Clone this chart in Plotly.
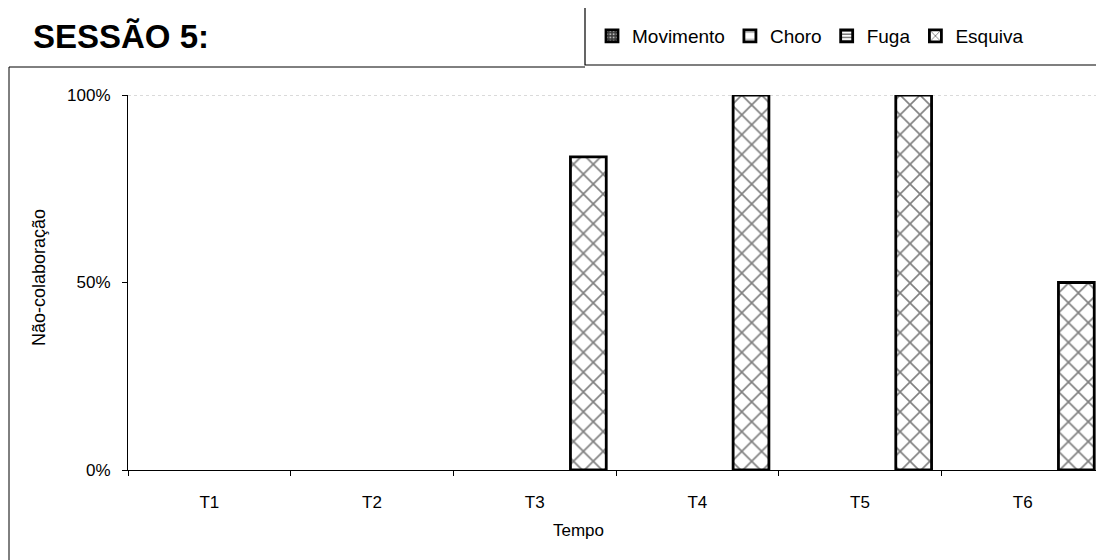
import plotly.graph_objects as go

categories = ["T1", "T2", "T3", "T4", "T5", "T6"]
movimento = [0, 0, 0, 0, 0, 0]
choro = [0, 0, 0, 0, 0, 0]
fuga = [0, 0, 0, 0, 0, 0]
esquiva = [0, 0, 0.835, 1.0, 1.0, 0.5]

title_text = "SESSÃO 5:"
y_title = "Não-colaboração"
x_title = "Tempo"
y_ticks = [0, 0.5, 1.0]
y_ticklabels = ["0%", "50%", "100%"]

FONT = "Liberation Sans, Arial, sans-serif"
OFF = 8  # default page body margin in the written html
W, H = 1104 - OFF, 560 - OFF
ML, MR, MT, MB = 128 - OFF, 0, 95 - OFF, 90
PW, PH = W - ML - MR, H - MT - MB


def px_x(px):
    # px is a page coordinate
    return (px - OFF - ML) / PW


def px_y(py):
    return (H - MB - (py - OFF)) / PH


fig = go.Figure()
series = [
    ("Movimento", movimento, dict(fillmode="replace", shape=".", fgcolor="#bbbbbb", bgcolor="#3a3a3a", size=4, solidity=0.35), "#3a3a3a"),
    ("Choro", choro, dict(shape="-", fgcolor="#000000", bgcolor="#ffffff", size=9, solidity=0.12), "#ffffff"),
    ("Fuga", fuga, dict(shape="-", fgcolor="#000000", bgcolor="#ffffff", size=4, solidity=0.5), "#ffffff"),
    ("Esquiva", esquiva, dict(shape="x", fgcolor="#000000", bgcolor="#ffffff", size=14, solidity=0.22), "#ffffff"),
]
for name, vals, pat, col in series:
    # zero-height bars are left undrawn, as in the original chart
    shown = [v if v else None for v in vals]
    fig.add_trace(go.Bar(
        name=name, x=categories, y=shown,
        marker=dict(color=col, pattern=pat, line=dict(color="#000000", width=2.8)),
    ))

shapes = [
    dict(type="line", xref="paper", yref="y", x0=0, x1=1, y0=1, y1=1,
         line=dict(color="#b5b5b5", width=1, dash="dot"), layer="below"),
    dict(type="line", xref="paper", yref="paper", x0=px_x(9), x1=px_x(9), y0=px_y(67), y1=px_y(600),
         line=dict(color="#000000", width=1)),
    dict(type="line", xref="paper", yref="paper", x0=px_x(9), x1=px_x(585), y0=px_y(67), y1=px_y(67),
         line=dict(color="#000000", width=1)),
    dict(type="rect", xref="paper", yref="paper", x0=px_x(585), x1=px_x(1120), y0=px_y(65), y1=px_y(4),
         line=dict(color="#000000", width=1.2), fillcolor="rgba(0,0,0,0)"),
]

fig.update_layout(
    width=W, height=H,
    margin=dict(l=ML, r=MR, t=MT, b=MB, autoexpand=False),
    paper_bgcolor="white", plot_bgcolor="white",
    font=dict(family=FONT, size=16, color="#000000"),
    barmode="group", bargap=0.12, bargroupgap=0,
    showlegend=True,
    legend=dict(orientation="h", x=px_x(592), y=px_y(36), xanchor="left", yanchor="middle",
                font=dict(family=FONT, size=19, color="#000000"),
                bgcolor="rgba(0,0,0,0)", borderwidth=0, itemwidth=30, traceorder="normal"),
    shapes=shapes,
    annotations=[
        dict(text="<b>" + title_text + "</b>", xref="paper", yref="paper", x=px_x(31), y=px_y(36),
             xanchor="left", yanchor="middle", showarrow=False,
             font=dict(family=FONT, size=33, color="#000000")),
        dict(text=y_title, xref="paper", yref="paper", x=px_x(39), y=px_y(278), textangle=-90,
             xanchor="center", yanchor="middle", showarrow=False,
             font=dict(family=FONT, size=18, color="#000000")),
        dict(text=x_title, xref="paper", yref="paper", x=px_x(578), y=px_y(530),
             xanchor="center", yanchor="middle", showarrow=False,
             font=dict(family=FONT, size=17, color="#000000")),
    ],
    xaxis=dict(type="category", showline=True, linecolor="#000000", linewidth=1.2,
               ticks="outside", tickson="boundaries", ticklen=5, tickcolor="#000000",
               showgrid=False, zeroline=False, ticklabelstandoff=16,
               tickfont=dict(family=FONT, size=17, color="#000000")),
    yaxis=dict(range=[0, 1], tickvals=y_ticks, ticktext=y_ticklabels, showline=True,
               linecolor="#000000", linewidth=1.2, ticks="outside", ticklen=5, tickcolor="#000000",
               showgrid=False, zeroline=False, ticklabelstandoff=8,
               tickfont=dict(family=FONT, size=17, color="#000000")),
)

fig.write_html("out.html")
